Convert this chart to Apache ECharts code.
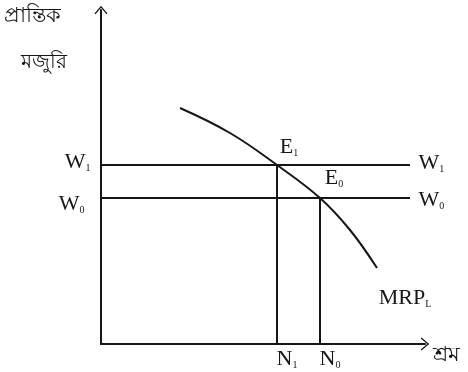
<!DOCTYPE html>
<html>
<head>
<meta charset="utf-8">
<script src="https://cdn.jsdelivr.net/npm/echarts@6/dist/echarts.min.js"></script>
<style>
  html, body { margin: 0; padding: 0; background: #fff; }
  #chart { width: 468px; height: 372px; }
</style>
</head>
<body>
<div id="chart"></div>
<script>
// MRP রেখা (শ্রমের প্রান্তিক আয় উৎপাদন)
const mrpCurve = [[79, 236], [129, 211], [176, 179], [219, 146], [249, 114], [276, 76]];
// মজুরি স্তর
const wageW1 = 179;
const wageW0 = 146;
// শ্রমের পরিমাণ
const laborN1 = 176;
const laborN0 = 219;
const wageLineEnd = 309;

const serif = 'Liberation Serif';
const black = '#161616';

// সাবস্ক্রিপ্ট সহ লেবেল
function sub(main, s) {
    return '{m|' + main + '}{s|' + s + '}';
}
const rich = {
    m: { fontFamily: serif, fontSize: 22, color: black },
    s: { fontFamily: serif, fontSize: 10, color: black, padding: [13, 0, 0, 0] }
};

function lineSeries(data) {
    return {
        type: 'line',
        data: data,
        symbol: 'circle',
        symbolSize: 1,
        showSymbol: true,
        itemStyle: { color: 'rgba(0,0,0,0)' },
        lineStyle: { color: black, width: 2 },
        silent: true,
        animation: false
    };
}

function lbl(text, position, offset) {
    return { show: true, formatter: text, position: position, offset: offset, distance: 4, rich: rich };
}

const chevron = 'path://M0,0 L10,12 L8.4,13.2 L0,3.2 L-8.4,13.2 L-10,12 Z';

const chart = echarts.init(document.getElementById('chart'));
chart.setOption({
    backgroundColor: '#fff',
    grid: { left: 101, right: 43, top: 10, bottom: 28 },
    xAxis: {
        type: 'value', min: 0, max: 324,
        axisLine: { lineStyle: { color: black, width: 2 }, symbol: ['none', chevron], symbolSize: [13, 14] },
        axisTick: { show: false }, axisLabel: { show: false }, splitLine: { show: false },
        name: 'শ্রম', nameLocation: 'end', nameGap: 8,
        nameTextStyle: { fontSize: 21, color: black, verticalAlign: 'top', padding: [1, 0, 0, 0] }
    },
    yAxis: {
        type: 'value', min: 0, max: 334,
        axisLine: { lineStyle: { color: black, width: 2 }, symbol: ['none', chevron], symbolSize: [13, 14] },
        axisTick: { show: false }, axisLabel: { show: false }, splitLine: { show: false }
    },
    graphic: [
        { type: 'text', left: 4, top: 6, style: { text: 'প্রান্তিক', fontSize: 21, fill: black } },
        { type: 'text', left: 21, top: 52, style: { text: 'মজুরি', fontSize: 20, fill: black } }
    ],
    series: [
        Object.assign(lineSeries(mrpCurve.map((p, i) => i === mrpCurve.length - 1
            ? { value: p, label: lbl(sub('MRP', 'L'), 'bottom', [28, 14]) } : p)), { smooth: 0.4 }),
        lineSeries([
            { value: [0, wageW1], label: lbl(sub('W', '1'), 'left', [-6, -3]) },
            { value: [wageLineEnd, wageW1], label: lbl(sub('W', '1'), 'right', [4, -2]) }
        ]),
        lineSeries([
            { value: [0, wageW0], label: lbl(sub('W', '0'), 'left', [-12, 6]) },
            { value: [wageLineEnd, wageW0], label: lbl(sub('W', '0'), 'right', [4, 2]) }
        ]),
        lineSeries([
            { value: [laborN1, 0], label: lbl(sub('N', '1'), 'bottom', [10, -1]) },
            { value: [laborN1, wageW1], label: lbl(sub('E', '1'), 'top', [12, -2]) }
        ]),
        lineSeries([
            { value: [laborN0, 0], label: lbl(sub('N', '0'), 'bottom', [10, -1]) },
            { value: [laborN0, wageW0], label: lbl(sub('E', '0'), 'top', [14, -4]) }
        ])
    ]
});
</script>
</body>
</html>
